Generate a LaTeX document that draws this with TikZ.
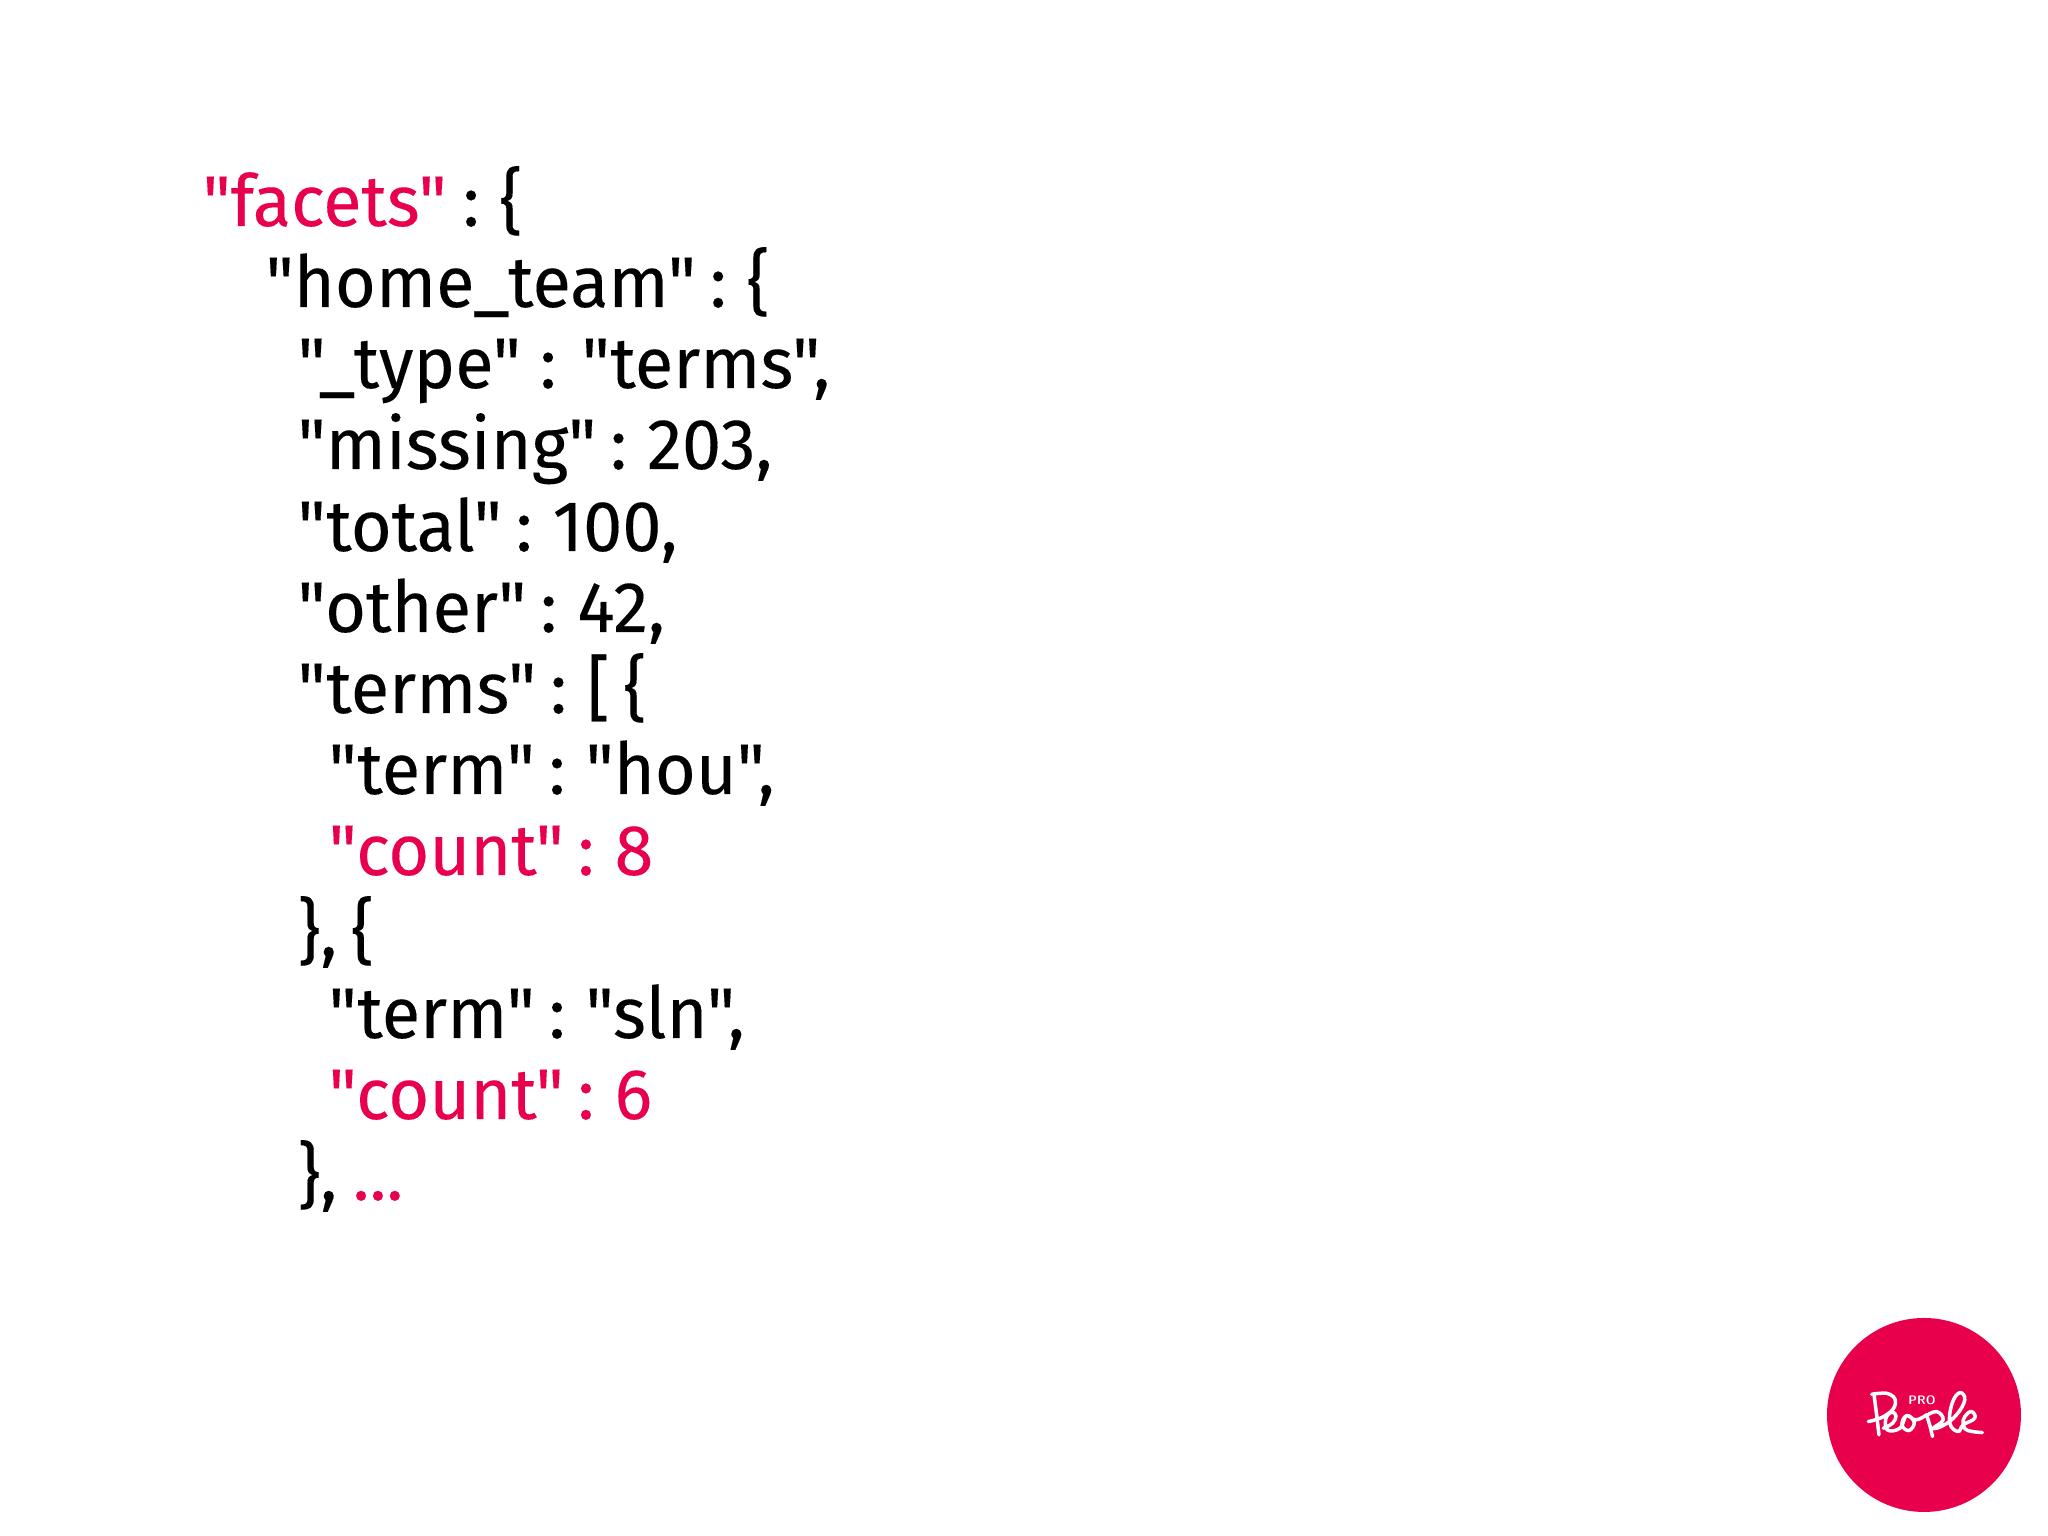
\documentclass[tikz,border=0pt]{standalone}
\usepackage{fontspec}
\setmainfont{Fira Sans}[Ligatures=TeXOff, WordSpace=0.75, FakeStretch=0.98, FakeBold=0.15]
\definecolor{proRed}{HTML}{E9004C}
\tikzset{
    codeline/.style={anchor=base west, inner sep=0pt, font=\fontsize{20.4}{24}\selectfont},
    hot/.style={text=proRed},
    logoline/.style={draw=white, line width=0.035cm, line cap=round, line join=round},
}
\begin{document}
\begin{tikzpicture}
    \useasboundingbox (0, 0) rectangle (20.48, 15.36);
    \fill[white] (0, 0) rectangle (20.48, 15.36);
    % code
    \node[codeline, hot] (facets) at (2.02, 13.10) {"facets"};
    \node[codeline] (colon) at (4.62, 13.10) {: \{};
    \node[codeline] (hometeam) at (2.65, 12.29) {"home\_team" : \{};
    \node[codeline] (type) at (2.97, 11.48) {"\_type"\hspace{0.05cm} : \hspace{0.05cm}"terms",};
    \node[codeline] (missing) at (2.97, 10.67) {"missing" : 203,};
    \node[codeline] (total) at (2.97, 9.85) {"total" : 100,};
    \node[codeline] (other) at (2.97, 9.04) {"other" : 42,};
    \node[codeline] (terms) at (2.97, 8.23) {"terms" : [ \{};
    \node[codeline] (termA) at (3.28, 7.42) {"term" : "hou",};
    \node[codeline, hot] (countA) at (3.28, 6.61) {"count" : 8};
    \node[codeline] (closeA) at (2.97, 5.80) {\}, \{};
    \node[codeline] (termB) at (3.28, 4.98) {"term" : "sln",};
    \node[codeline, hot] (countB) at (3.28, 4.17) {"count" : 6};
    \node[codeline] (closeB) at (2.97, 3.36) {\},};
    \node[codeline, hot] (dots) at (3.52, 3.36) {...};
    % logo
    \fill[proRed] (19.24, 1.21) circle (0.97);
    \node[inner sep=0pt, text=white, font=\fontsize{3.5}{4}\sffamily\bfseries\selectfont] (pro) at (19.22, 1.36) {PRO};
    \begin{scope}[shift={(18.60, 1.51)}, x=0.00333cm, y=-0.00333cm]
        \draw[logoline] plot[smooth, tension=0.6] coordinates {(42,28) (50,90) (57,150)};
        \draw[logoline] plot[smooth, tension=0.6] coordinates {(35,28) (80,25) (105,42) (100,72) (65,98) (25,110)};
        \draw[logoline] plot[smooth, tension=0.7] coordinates {(70,130) (98,115) (108,93) (96,82) (78,100) (82,135) (120,130) (140,92) (163,113) (147,137) (126,120) (140,92) (168,105) (200,90)};
        \draw[logoline] plot[smooth, tension=0.6] coordinates {(200,90) (210,122) (218,155)};
        \draw[logoline] plot[smooth, tension=0.7] coordinates {(195,95) (230,80) (250,105) (220,130) (250,122) (290,90) (315,45) (300,23) (277,55) (270,115) (295,140) (310,120) (345,100) (335,80) (315,95) (310,120) (325,137) (368,143)};
    \end{scope}
\end{tikzpicture}
\end{document}
